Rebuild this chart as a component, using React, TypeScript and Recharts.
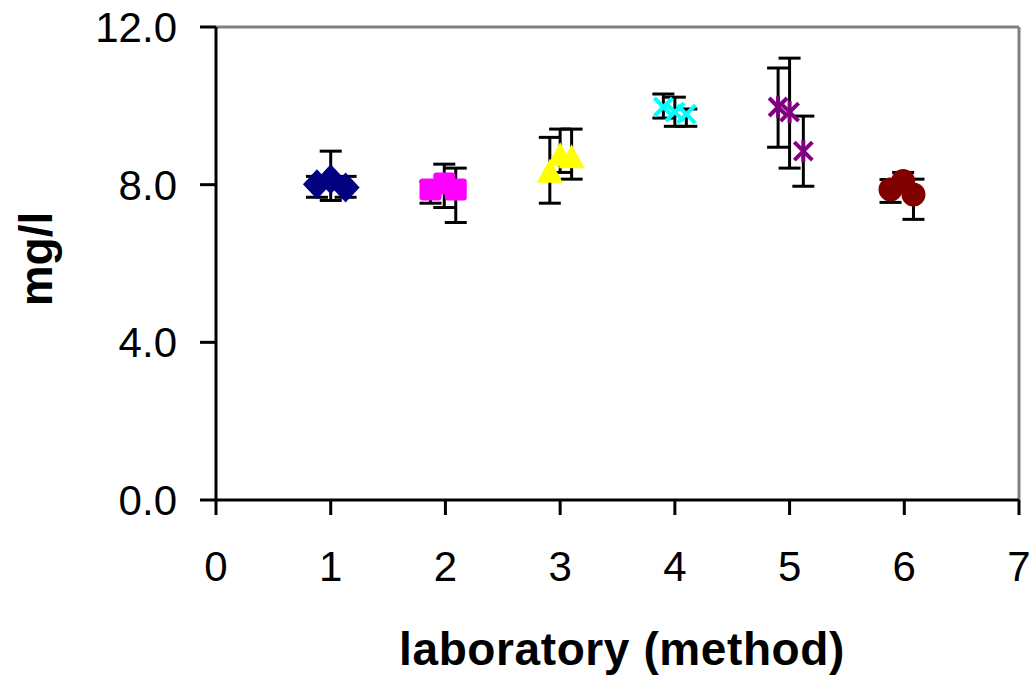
import React from 'react';
import { ScatterChart, Scatter, XAxis, YAxis, ErrorBar, ReferenceLine, Label } from 'recharts';

// laboratory positions (x), measured values (mg/l), lower/upper error
const LAB1_X = [0.88, 1.0, 1.13];
const LAB1_Y = [8.01, 8.14, 7.93];
const LAB1_LOW = [0.33, 0.54, 0.25];
const LAB1_HIGH = [0.2, 0.71, 0.28];

const LAB2_X = [1.87, 1.99, 2.09];
const LAB2_Y = [7.88, 8.03, 7.88];
const LAB2_LOW = [0.35, 0.61, 0.84];
const LAB2_HIGH = [0.2, 0.49, 0.54];

const LAB3_X = [2.91, 3.0, 3.1];
const LAB3_Y = [8.35, 8.77, 8.72];
const LAB3_LOW = [0.82, 0.46, 0.58];
const LAB3_HIGH = [0.85, 0.64, 0.69];

const LAB4_X = [3.9, 4.0, 4.1];
const LAB4_Y = [9.97, 9.84, 9.79];
const LAB4_LOW = [0.28, 0.36, 0.31];
const LAB4_HIGH = [0.33, 0.38, 0.13];

const LAB5_X = [4.9, 5.0, 5.12];
const LAB5_Y = [9.97, 9.84, 8.85];
const LAB5_LOW = [1.02, 1.42, 0.89];
const LAB5_HIGH = [0.99, 1.37, 0.89];

const LAB6_X = [5.88, 5.99, 6.08];
const LAB6_Y = [7.88, 8.09, 7.75];
const LAB6_LOW = [0.33, 0.2, 0.63];
const LAB6_HIGH = [0.25, 0.22, 0.39];

const X_TICKS = [0, 1, 2, 3, 4, 5, 6, 7];
const Y_TICKS = [0, 4, 8, 12];
const X_TITLE = 'laboratory (method)';
const Y_TITLE = 'mg/l';

const build = (xs: number[], ys: number[], lo: number[], hi: number[]) =>
  xs.map((x, i) => ({ x, y: ys[i], err: [lo[i], hi[i]] }));

const FONT = '"Liberation Sans", Arial, sans-serif';

const Diamond = (p: any) => {
  const { cx, cy } = p;
  const w = 14, h = 15;
  return <polygon points={`${cx},${cy - h} ${cx + w},${cy} ${cx},${cy + h} ${cx - w},${cy}`} fill="#000080" />;
};
const Square = (p: any) => {
  const { cx, cy } = p;
  return <rect x={cx - 11} y={cy - 11} width={22} height={22} rx={3} fill="#FF00FF" />;
};
const Triangle = (p: any) => {
  const { cx, cy } = p;
  return <polygon points={`${cx},${cy - 12} ${cx + 13},${cy + 12} ${cx - 13},${cy + 12}`} fill="#FFFF00" />;
};
const Cross = (p: any) => {
  const { cx, cy } = p;
  const s = 9;
  return (
    <g stroke="#00FFFF" strokeWidth={4}>
      <line x1={cx - s} y1={cy - s} x2={cx + s} y2={cy + s} />
      <line x1={cx - s} y1={cy + s} x2={cx + s} y2={cy - s} />
    </g>
  );
};
const Star = (p: any) => {
  const { cx, cy } = p;
  const s = 9;
  return (
    <g stroke="#800080" strokeWidth={4}>
      <line x1={cx - s} y1={cy - s} x2={cx + s} y2={cy + s} />
      <line x1={cx - s} y1={cy + s} x2={cx + s} y2={cy - s} />
      <line x1={cx} y1={cy - s - 2} x2={cx} y2={cy + s + 2} />
    </g>
  );
};
const Circle = (p: any) => {
  const { cx, cy } = p;
  return <circle cx={cx} cy={cy} r={12} fill="#800000" />;
};

const SERIES = [
  { data: build(LAB1_X, LAB1_Y, LAB1_LOW, LAB1_HIGH), shape: Diamond },
  { data: build(LAB2_X, LAB2_Y, LAB2_LOW, LAB2_HIGH), shape: Square },
  { data: build(LAB3_X, LAB3_Y, LAB3_LOW, LAB3_HIGH), shape: Triangle },
  { data: build(LAB4_X, LAB4_Y, LAB4_LOW, LAB4_HIGH), shape: Cross },
  { data: build(LAB5_X, LAB5_Y, LAB5_LOW, LAB5_HIGH), shape: Star },
  { data: build(LAB6_X, LAB6_Y, LAB6_LOW, LAB6_HIGH), shape: Circle },
];

const tickStyle = { fontFamily: FONT, fontSize: 42, fill: '#000' };

export default function App() {
  return (
    <div style={{ position: 'absolute', left: 0, top: 0, width: 1029, height: 676, background: '#fff' }}>
      <ScatterChart width={1029} height={676} margin={{ top: 27, right: 10, bottom: 0, left: 0 }}>
        <XAxis
          type="number"
          dataKey="x"
          domain={[0, 7]}
          ticks={X_TICKS}
          interval={0}
          allowDataOverflow
          height={176}
          tickSize={15}
          tickMargin={36}
          axisLine={{ stroke: '#000', strokeWidth: 3 }}
          tickLine={{ stroke: '#000', strokeWidth: 3 }}
          tick={tickStyle}
        >
          <Label
            content={() => (
              <text x={622} y={665} textAnchor="middle" fontFamily={FONT} fontWeight="bold" fontSize={46} letterSpacing={0.6} fill="#000">
                {X_TITLE}
              </text>
            )}
          />
        </XAxis>
        <YAxis
          type="number"
          dataKey="y"
          domain={[0, 12]}
          ticks={Y_TICKS}
          interval={0}
          allowDataOverflow
          width={216}
          tickSize={16}
          tickMargin={23}
          tickFormatter={(v: number) => v.toFixed(1)}
          axisLine={{ stroke: '#000', strokeWidth: 3 }}
          tickLine={{ stroke: '#000', strokeWidth: 3 }}
          tick={tickStyle}
        >
          <Label
            content={() => (
              <text
                x={52}
                y={259}
                transform="rotate(-90, 52, 259)"
                textAnchor="middle"
                fontFamily={FONT}
                fontWeight="bold"
                fontSize={46}
                fill="#000"
              >
                {Y_TITLE}
              </text>
            )}
          />
        </YAxis>
        <ReferenceLine y={12} stroke="#808080" strokeWidth={3} />
        <ReferenceLine x={7} stroke="#808080" strokeWidth={3} />
        {SERIES.map((s, i) => (
          <Scatter key={i} data={s.data} shape={s.shape} isAnimationActive={false}>
            <ErrorBar dataKey="err" direction="y" width={11} strokeWidth={3} stroke="#000" />
          </Scatter>
        ))}
      </ScatterChart>
    </div>
  );
}
